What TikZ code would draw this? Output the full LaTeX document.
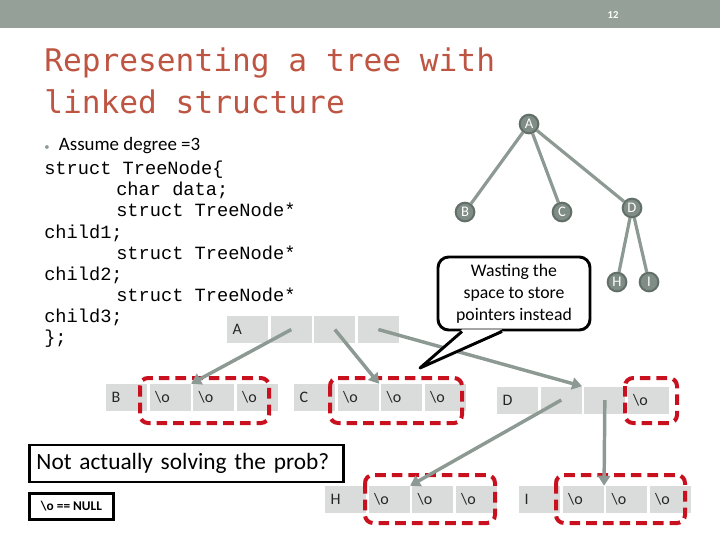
\documentclass[tikz,border=0pt]{standalone}
\usepackage{fontspec}
\setmainfont{Carlito}
\newfontfamily\titlefont{DejaVu Sans Mono}
\newfontfamily\codefont{Liberation Mono}
\usetikzlibrary{arrows.meta,positioning,calc}
\definecolor{headgray}{RGB}{148,160,152}
\definecolor{titlered}{RGB}{190,84,66}
\definecolor{cellgray}{RGB}{217,220,219}
\definecolor{linkgray}{RGB}{141,154,147}
\definecolor{nullred}{RGB}{200,16,30}
\definecolor{treefill}{RGB}{128,141,134}
\definecolor{treeline}{RGB}{98,110,104}
\newcommand{\nulo}{\textbackslash o}

\begin{document}
\begin{tikzpicture}[x=0.75pt, y=-0.75pt,
    cell/.style={fill=cellgray, minimum width=30.75pt, minimum height=20.25pt,
        inner xsep=4pt, text width=22.75pt, align=left, anchor=west,
        font=\fontsize{12}{12}\selectfont, text=black!85},
    tnode/.style={circle, fill=treefill, draw=treeline, line width=1.5pt,
        minimum size=14pt, inner sep=0pt, text=white, font=\fontsize{11}{11}\selectfont},
    branch/.style={line width=2.4pt, linkgray},
    ptr/.style={-{Triangle[length=7.5pt,width=9pt]}, line width=2.6pt, linkgray},
    nullbox/.style={draw=nullred, line width=3pt, dash pattern=on 8pt off 4.5pt, rounded corners=6pt},
    note/.style={draw, line width=2.2pt, fill=white, anchor=west},
    code/.style={font=\codefont\fontsize{14}{15.8}\selectfont, align=left, inner sep=0pt, anchor=north west}
]
\useasboundingbox (0,0) rectangle (720,540);
\fill[headgray] (0,0) rectangle (720,28);
\node[font=\fontsize{8}{8}\selectfont\bfseries, text=white] (pgno) at (613,15) {12};

% title and declaration
\node[anchor=north west, inner sep=0pt, align=left, text=titlered,
    font=\titlefont\fontsize{23.4}{31}\selectfont] (title) at (44,48) {Representing a tree with\\linked structure};
\node[anchor=west, inner sep=0pt, font=\fontsize{14.2}{14.2}\selectfont] (deg) at (44,146)
    {\textcolor{linkgray}{\fontsize{8}{8}\selectfont\textbullet}\hspace{7pt}Assume degree =3};
\node[code] (decl) at (44,161) {struct TreeNode\{\\
    \hspace*{54pt}char data;\\
    \hspace*{54pt}struct TreeNode*\\
    child1;\\
    \hspace*{54pt}struct TreeNode*\\
    child2;\\
    \hspace*{54pt}struct TreeNode*\\
    child3;\\
    \};};

% the tree
\node[tnode] (tA) at (529,124) {A};
\node[tnode] (tB) at (465,212) {B};
\node[tnode] (tC) at (562,212) {C};
\node[tnode] (tD) at (632,208) {D};
\node[tnode] (tH) at (617,282) {H};
\node[tnode] (tI) at (649,282) {I};
\foreach \i/\j in {tA/tB, tA/tC, tA/tD, tD/tH, tD/tI}
    \draw[branch] (\i) -- (\j);

% linked nodes
\node[cell] (a0) at (227,329.5) {A};
\node[cell, right=1.5pt of a0] (a1) {};
\node[cell, right=1.5pt of a1] (a2) {};
\node[cell, right=1.5pt of a2] (a3) {};

\node[cell] (b0) at (106,397.5) {B};
\node[cell, right=1.5pt of b0] (b1) {\nulo};
\node[cell, right=1.5pt of b1] (b2) {\nulo};
\node[cell, right=1.5pt of b2] (b3) {\nulo};

\node[cell] (c0) at (294,397.5) {C};
\node[cell, right=1.5pt of c0] (c1) {\nulo};
\node[cell, right=1.5pt of c1] (c2) {\nulo};
\node[cell, right=1.5pt of c2] (c3) {\nulo};

\node[cell] (d0) at (497,400) {D};
\node[cell, right=1.5pt of d0] (d1) {};
\node[cell, right=1.5pt of d1] (d2) {};
\node[cell, right=1.5pt of d2] (d3) {\nulo};

\node[cell] (h0) at (325,499.5) {H};
\node[cell, right=1.5pt of h0] (h1) {\nulo};
\node[cell, right=1.5pt of h1] (h2) {\nulo};
\node[cell, right=1.5pt of h2] (h3) {\nulo};

\node[cell] (i0) at (519,499.5) {I};
\node[cell, right=1.5pt of i0] (i1) {\nulo};
\node[cell, right=1.5pt of i1] (i2) {\nulo};
\node[cell, right=1.5pt of i2] (i3) {\nulo};

% null pointers
\draw[nullbox] (140,378) rectangle (269,423);
\draw[nullbox] (330,378) rectangle (462,423);
\draw[nullbox] (625,378) rectangle (677,423);
\draw[nullbox] (365,475) rectangle (495,523);
\draw[nullbox] (556,475) rectangle (685,523);

\foreach \i/\j in {a1/b1, a2/c1, a3/d1, d1/h1, d2/i1}
    \draw[ptr] (\i.center) -- (\j.north east);

% callout
\node[draw, line width=2.2pt, fill=white, rounded corners=8pt, minimum width=114pt, minimum height=54.75pt,
    align=center, font=\fontsize{13.3}{16.5}\selectfont] (waste) at (514,293.5) {Wasting the\\space to store\\pointers instead};
\coordinate (tip) at (420,368);
\fill[white] ($(waste.south)+(-52,-2)$) -- (tip) -- ($(waste.south)+(-12,-2)$) -- cycle;
\draw[line width=2.2pt, line join=round] ($(waste.south)+(-52,0)$) -- (tip) -- ($(waste.south)+(-12,0)$);

% notes
\node[note, minimum width=235.5pt, minimum height=27.75pt, inner xsep=5pt, text width=225pt,
    align=left, font=\fontsize{17.5}{17.5}\selectfont] (prob) at (28,463.5) {Not actually solving the prob?};
\node[note, minimum width=63pt, minimum height=19pt, inner xsep=5pt,
    font=\fontsize{10}{10}\selectfont\bfseries] (nullnote) at (28,506.5) {\nulo{} == NULL};
\end{tikzpicture}
\end{document}
